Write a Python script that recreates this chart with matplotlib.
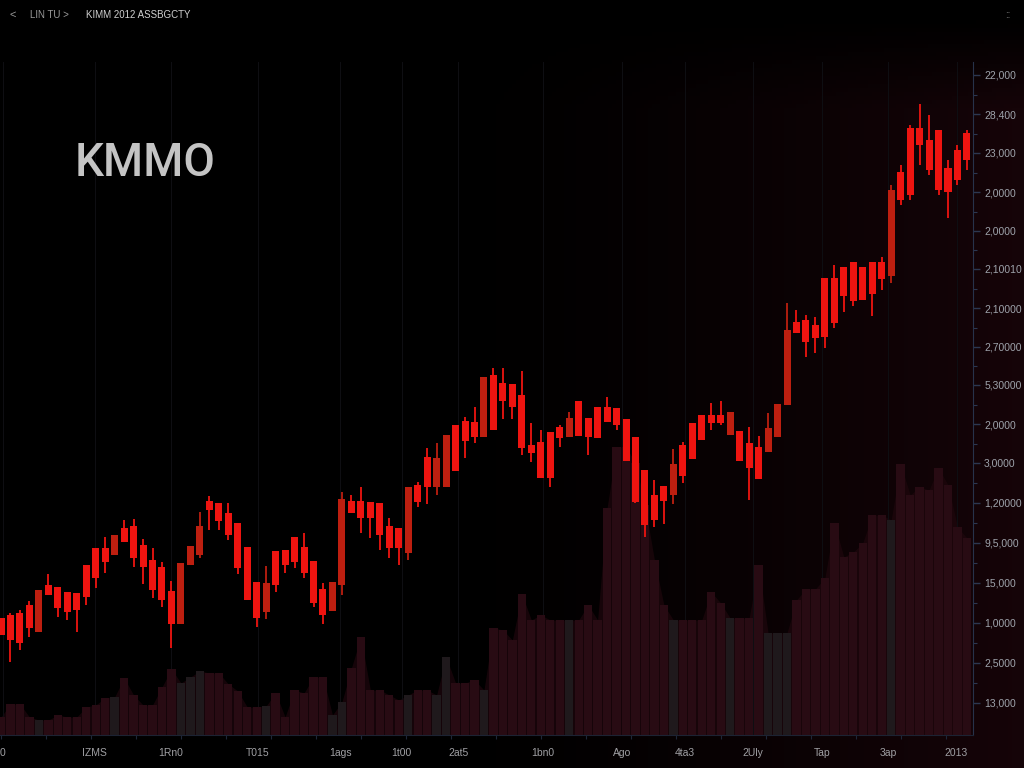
import numpy as np
import matplotlib
matplotlib.use('Agg')
import matplotlib.pyplot as plt
from matplotlib.ticker import MultipleLocator

plt.rcParams['font.family'] = ['Liberation Sans', 'DejaVu Sans']

# candle data (arbitrary price units)
opens = [117, 120, 122, 130, 103, 150, 148, 143, 142, 170,
         187, 187, 180, 207, 209, 190, 175, 168, 144, 111,
         170, 180, 234, 232, 222, 212, 188, 153, 123, 184,
         185, 198, 188, 174, 146, 124, 150, 234, 234, 233,
         232, 209, 207, 182, 250, 278, 248, 248, 310, 314,
         313, 298, 360, 352, 351, 340, 290, 293, 303, 308,
         298, 334, 317, 328, 328, 327, 316, 298, 265, 240,
         249, 240, 290, 312, 320, 320, 320, 300, 304, 292,
         288, 283, 298, 330, 413, 415, 410, 457, 457, 468,
         473, 468, 473, 473, 459, 563, 607, 607, 595, 605,
         567, 585, 602]
closes = [100, 95, 92, 107, 145, 140, 127, 123, 125, 138,
          157, 173, 200, 193, 177, 168, 145, 135, 111, 172,
          189, 209, 225, 214, 200, 167, 135, 117, 152, 150,
          170, 173, 162, 132, 120, 153, 236, 222, 217, 217,
          200, 187, 187, 248, 233, 248, 277, 300, 264, 294,
          298, 358, 305, 334, 328, 287, 282, 257, 257, 297,
          317, 299, 298, 297, 313, 310, 274, 233, 210, 215,
          234, 271, 259, 276, 295, 312, 312, 323, 274, 267,
          256, 307, 331, 405, 402, 393, 397, 398, 412, 439,
          434, 435, 441, 456, 545, 535, 540, 590, 565, 545,
          543, 555, 575]
highs = [117, 122, 125, 134, 145, 161, 148, 143, 142, 170,
         187, 198, 200, 215, 216, 196, 187, 173, 154, 172,
         189, 223, 239, 232, 232, 212, 188, 153, 169, 184,
         185, 198, 202, 174, 152, 153, 243, 240, 248, 233,
         232, 217, 207, 248, 253, 287, 292, 300, 310, 318,
         328, 358, 367, 367, 351, 364, 312, 305, 303, 310,
         323, 334, 317, 328, 338, 327, 316, 298, 265, 255,
         249, 286, 293, 312, 320, 332, 334, 323, 304, 308,
         299, 322, 331, 432, 425, 420, 418, 457, 470, 468,
         473, 468, 473, 478, 550, 570, 610, 631, 620, 605,
         575, 590, 605]
lows = [100, 73, 85, 98, 103, 140, 118, 115, 103, 130,
        147, 162, 180, 193, 168, 151, 137, 128, 87, 111,
        170, 177, 205, 205, 195, 161, 135, 108, 116, 143,
        162, 167, 157, 128, 111, 124, 140, 222, 202, 197,
        185, 177, 170, 175, 228, 231, 240, 248, 264, 277,
        292, 298, 305, 316, 316, 280, 273, 257, 248, 288,
        298, 299, 280, 297, 313, 305, 274, 232, 198, 208,
        211, 231, 252, 276, 295, 305, 310, 300, 274, 235,
        256, 283, 298, 330, 402, 378, 382, 387, 407, 423,
        429, 435, 419, 445, 452, 530, 535, 570, 560, 540,
        517, 550, 565]
volumes = [18, 31, 31, 18, 15, 15, 20, 18, 18, 28,
           30, 37, 38, 57, 40, 30, 30, 48, 66, 52,
           58, 64, 62, 62, 51, 44, 28, 28, 29, 42,
           18, 45, 42, 58, 58, 20, 33, 67, 98, 45,
           45, 40, 35, 40, 45, 45, 40, 78, 52, 52,
           55, 45, 107, 105, 95, 141, 115, 120, 115, 115,
           115, 115, 130, 115, 227, 288, 288, 272, 230, 175,
           130, 115, 115, 115, 115, 143, 132, 117, 117, 117,
           170, 102, 102, 102, 135, 146, 146, 157, 212, 178,
           183, 192, 220, 220, 215, 271, 240, 248, 245, 267,
           250, 208, 197]

ytick_pos = [660, 621, 582, 543, 504, 466, 427, 388, 350, 311, 272, 232,
             192, 152, 112, 72, 32]
ytick_labels = ['22,000', '28,400', '23,000', '2,0000', '2,0000', '2,10010',
                '2,10000', '2,70000', '5,30000', '2,0000', '3,0000', '1,20000',
                '9,5,000', '15,000', '1,0000', '2,5000', '13,000']
xtick_pos = [0.2, 9.9, 17.9, 27.1, 35.8, 42.3, 48.3, 57.2, 65.6, 72.2,
             79.4, 86.7, 93.7, 100.9]
xtick_labels = ['0', 'IZMS', '1Rn0', 'T015', '1ags', '1t00', '2at5', '1bn0',
                'Ago', '4ta3', '2Uly', 'Tap', '3ap', '2013']

o = np.array(opens, float)
c = np.array(closes, float)
h = np.array(highs, float)
l = np.array(lows, float)
vol = np.array(volumes, float)
idx = np.arange(len(o))
up = c >= o

fig = plt.figure(figsize=(10.24, 7.68), dpi=100, facecolor='black')

# dark background with a maroon tint towards the right
bg = fig.add_axes([0, 0, 1, 1], zorder=0)
gx = np.linspace(0, 1, 256)
gy = np.linspace(0, 1, 192)
X, Y = np.meshgrid(gx, gy)
t = np.clip((X - 0.42) / 0.58, 0, 1) ** 1.4 * np.clip((Y - 0.02) / 0.12, 0, 1)
img = np.zeros((192, 256, 3))
img[..., 0] = 0.085 * t
img[..., 1] = 0.016 * t
img[..., 2] = 0.032 * t
bg.imshow(img, aspect='auto', extent=[0, 1, 1, 0])
bg.set_axis_off()

ax = fig.add_axes([0, 33 / 768, 973 / 1024, 673 / 768], zorder=1)
ax.set_facecolor('none')

# volume
vol_col = np.where(up, '#1f191c', '#280b13')
ax.fill_between(idx, vol, color='#1f070d', alpha=0.7, lw=0, zorder=1)
ax.bar(idx, vol, width=0.88, color=vol_col, zorder=2)

# candles
body_col = np.where(up, '#bd1f10', '#ee1410')
ax.vlines(idx, l, h, colors=body_col, lw=1.3, zorder=3)
ax.bar(idx, np.maximum(np.abs(c - o), 2), bottom=np.minimum(o, c), width=0.74,
       color=body_col, zorder=4)

ax.set_xlim(-0.106, 102.64)
ax.set_ylim(0, 673)

ax.yaxis.tick_right()
ax.set_yticks(ytick_pos)
ax.set_yticklabels(ytick_labels)
ax.set_yticks([(a + b) / 2 for a, b in zip(ytick_pos[:-1], ytick_pos[1:])], minor=True)
ax.tick_params(axis='y', which='major', length=5, width=1, color='#2c3750',
               labelcolor='#9ea3ab', labelsize=7.5, pad=3)
ax.tick_params(axis='y', which='minor', length=3, width=0.8, color='#2c3750')

ax.set_xticks(xtick_pos)
ax.set_xticklabels(xtick_labels)
ax.xaxis.set_minor_locator(MultipleLocator(4.75))
ax.tick_params(axis='x', which='major', length=0, labelcolor='#a0a0a4',
               labelsize=7.5, pad=9)
ax.tick_params(axis='x', which='minor', length=3, width=0.8, color='#1e2638')
ax.grid(axis='x', which='major', color='#0e0e12', lw=0.8, zorder=0)

for s in ['left', 'top']:
    ax.spines[s].set_visible(False)
ax.spines['right'].set_color('#27324a')
ax.spines['bottom'].set_color('#1c2333')

# titles and header
fig.text(75 / 1024, 1 - 163 / 768, 'KMMO', fontsize=33, color='#c4c4c4',
         family=['Roboto', 'DejaVu Sans'], weight='medium', va='center', ha='left')
fig.text(9 / 1024, 1 - 15 / 768, '<', fontsize=8, color='#9a9a9a', va='center')
fig.text(30 / 1024, 1 - 15 / 768, 'LIN TU >', fontsize=7, color='#9a9a9a', va='center')
fig.text(86 / 1024, 1 - 15 / 768, 'KIMM 2012 ASSBGCTY', fontsize=7, color='#d0d0d0',
         va='center')
fig.text(1008 / 1024, 1 - 15 / 768, '::', fontsize=7, color='#8a8a8a', va='center',
         ha='center')

fig.savefig('out.png', dpi=100, facecolor='black')
